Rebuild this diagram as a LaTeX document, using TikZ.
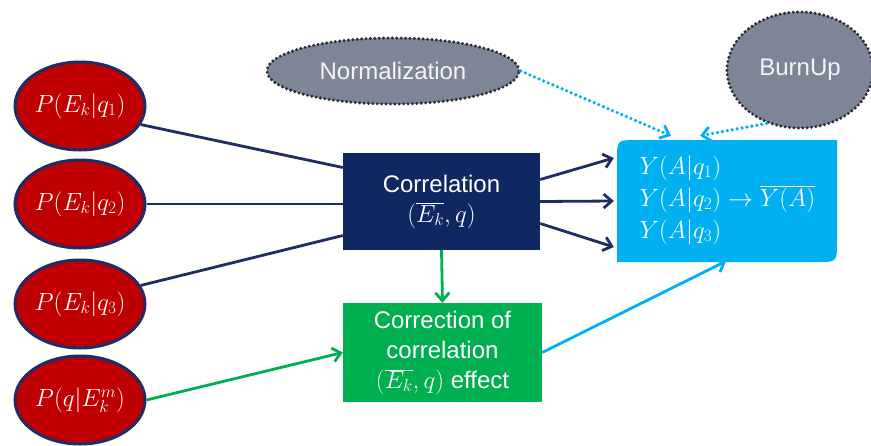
\documentclass[tikz,border=0pt]{standalone}
\usepackage{fontspec}
\setmainfont{Liberation Sans}
\usetikzlibrary{arrows.meta,shapes.geometric}
\definecolor{pred}{HTML}{C00000}
\definecolor{pnavy}{HTML}{1F2C66}
\definecolor{boxnavy}{HTML}{0F2763}
\definecolor{pgreen}{HTML}{00B050}
\definecolor{pcyan}{HTML}{00B0F0}
\definecolor{pgray}{HTML}{7D8597}
\definecolor{pdots}{HTML}{2B2F38}
\tikzset{
  every node/.style={font=\fontsize{24}{30}\selectfont},
  mathbig/.style={font=\fontsize{25.5}{30}\selectfont},
  redell/.style={ellipse, fill=pred, draw=pnavy, line width=3pt,
    minimum width=130pt, minimum height=88pt, inner sep=0pt, text=white, mathbig},
  grayell/.style={ellipse, fill=pgray, draw=pdots, line width=3.4pt,
    dash pattern=on 0pt off 4.4pt, line cap=round, text=white!92!pgray},
  corrbox/.style={rectangle, fill=boxnavy, text=white, align=center,
    minimum width=197pt, minimum height=97pt, inner sep=0pt},
  greenbox/.style={rectangle, fill=pgreen, text=white, align=center,
    minimum width=199pt, minimum height=99pt, inner sep=0pt},
  tip/.style={-{Straight Barb[length=8pt,width=14pt,line width=2.8pt]}},
  navyline/.style={draw=pnavy, line width=2.8pt},
  greenline/.style={draw=pgreen, line width=2.8pt},
  cyanline/.style={draw=pcyan, line width=2.8pt},
  cyandots/.style={draw=pcyan, line width=3.6pt, dash pattern=on 0pt off 5pt, line cap=round}
}
\begin{document}
\begin{tikzpicture}[x=1pt,y=-1pt]
\useasboundingbox (0,0) rectangle (871,445);

% yield box: rounded top-left and bottom-right corners
\fill[pcyan] (617,262) -- (617,160) .. controls (617,140) .. (637,140)
  -- (837,140) -- (837,242) .. controls (837,262) .. (817,262) -- cycle;
\node[rectangle, minimum width=220pt, minimum height=122pt, inner sep=0pt]
  (yield) at (727,201) {};
\node[anchor=west, text=white, align=left,
  font=\fontsize{25.5}{32}\selectfont] (yieldtxt) at (636,200)
  {$Y(A|q_1)$\\ $Y(A|q_2)\rightarrow\overline{Y(A)}$\\ $Y(A|q_3)$};

% input probabilities
\node[redell] (p1) at (80,106) {$P(E_k|q_1)$};
\node[redell] (p2) at (80,204) {$P(E_k|q_2)$};
\node[redell] (p3) at (80,304) {$P(E_k|q_3)$};
\node[redell] (p4) at (80,400) {$P(q|E_k^m)$};

% processing blocks
\node[corrbox] (corr) at (441.5,201.5) {Correlation\\$(\overline{E_k},q)$};
\node[greenbox] (corrfix) at (442.5,352.5)
  {Correction of\\correlation\\$(\overline{E_k},q)$ effect};

% auxiliary inputs
\node[grayell, minimum width=252pt, minimum height=66pt] (norm) at (393,71) {Normalization};
\node[grayell, minimum width=146pt, minimum height=116pt] (burn) at (800,70) {BurnUp};

% connectors
\draw[navyline] (p1.-17) -- ([yshift=34pt]corr.west);
\draw[navyline] (p2.east) -- (p2.east -| corr.west);
\draw[navyline] (p3.17) -- ([yshift=-34pt]corr.west);
\draw[greenline, tip] (p4.east) -- (corrfix.west);

\draw[navyline, tip] ([yshift=22pt]corr.east) -- ([yshift=43pt,xshift=-3pt]yield.west);
\draw[navyline, tip] (corr.east) -- ([xshift=-3pt]yield.west);
\draw[navyline, tip] ([yshift=-22pt]corr.east) -- ([yshift=-46pt,xshift=-3pt]yield.west);

\draw[greenline, tip] (corr.south) -- (corrfix.north);
\draw[cyanline, tip] (corrfix.east) -- ([xshift=-1pt,yshift=1pt]yield.south);

\draw[cyandots, tip] (norm.east) -- ([xshift=-56pt,yshift=4pt]yield.north);
\draw[cyandots, tip] (burn.-122) -- ([xshift=-27pt,yshift=4pt]yield.north);
\end{tikzpicture}
\end{document}
